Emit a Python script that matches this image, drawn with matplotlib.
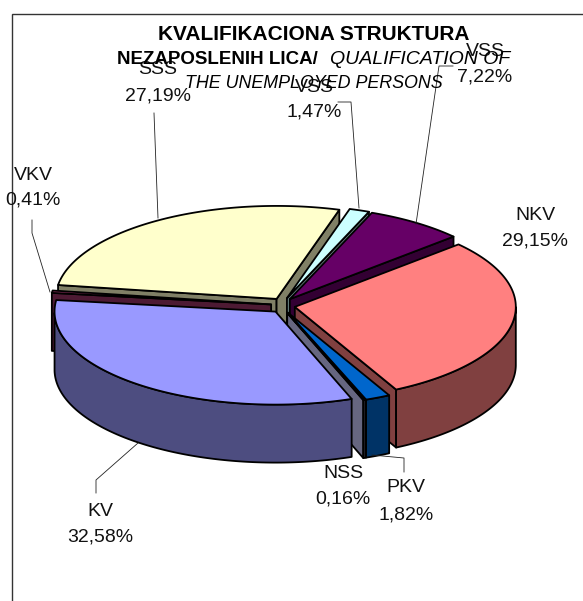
import numpy as np
import matplotlib
matplotlib.use('Agg')
import matplotlib.pyplot as plt
from matplotlib.patches import Polygon, Rectangle

plt.rcParams['font.family'] = ['Liberation Sans', 'DejaVu Sans']

# clockwise from the top of the pie
categories = ['VSS', 'VSS', 'NKV', 'PKV', 'NSS', 'KV', 'VKV', 'SSS']
shares = [1.47, 7.22, 29.15, 1.82, 0.16, 32.58, 0.41, 27.19]
share_labels = ['1,47%', '7,22%', '29,15%', '1,82%', '0,16%', '32,58%', '0,41%', '27,19%']

top_colors = ['#CCFFFF', '#660066', '#FF8080', '#0066CC', '#CCCCFF', '#9999FF', '#993366', '#FFFFCC']
side_colors = ['#668080', '#330033', '#804040', '#003366', '#666680', '#4D4D80', '#4D1A33', '#808066']

# back slices first, front slices last
draw_order = [7, 6, 0, 1, 2, 3, 4, 5]

cx, cy = 283, 305.5
rx, ry = 221, 93
depth = 58
explode = 12
start_angle = 73.5

# label centres and leader lines, in figure pixels
label_xy = [(314, 88, 112), (485, 52, 77), (535, 215, 241), (406, 488, 515),
            (343, 473, 499), (100, 511, 537), (33, 175, 200), (158, 70, 96)]
leaders = [[(338, 102), (351, 102), (359, 208)],
           [(453, 66), (439, 66), (416, 224)],
           None,
           [(404, 472), (404, 458), (372, 455)],
           None,
           [(96, 493), (96, 480), (138, 443)],
           [(32, 220), (32, 233), (50, 292)],
           [(154, 113), (158, 218)]]

fig = plt.figure(figsize=(5.83, 6.01), dpi=100)
ax = fig.add_axes([0, 0, 1, 1])
ax.set_xlim(0, 583)
ax.set_ylim(601, 0)
ax.axis('off')

ax.add_patch(Rectangle((12, 14), 640, 640, fc='white', ec='#333333', lw=1.0))


def rim(t, ox, oy):
    return ox + rx * np.cos(t), oy - ry * np.sin(t)


def add_face(xs, ys, color):
    ax.add_patch(Polygon(np.column_stack([xs, ys]), closed=True, fc=color, ec='black',
                         lw=1.3, joinstyle='round'))


ends = start_angle - np.cumsum(shares) * 3.6
starts = np.concatenate([[start_angle], ends[:-1]])

for i in draw_order:
    t0, t1 = np.radians(starts[i]), np.radians(ends[i])
    mid = (t0 + t1) / 2
    ox = cx + explode * np.cos(mid)
    oy = cy - explode * 0.65 * np.sin(mid)

    # cut walls, only the ones that face the viewer
    for t, visible in ((t0, np.cos(t0) < 0), (t1, np.cos(t1) > 0)):
        if visible:
            x, y = rim(t, ox, oy)
            add_face([ox, x, x, ox], [oy, y, y + depth, oy + depth], side_colors[i])

    # outer wall, front half of the ellipse only
    ts = np.linspace(t0, t1, 120)
    ts = ts[np.sin(ts) < 0]
    if len(ts) > 1:
        x, y = rim(ts, ox, oy)
        add_face(np.r_[x, x[::-1]], np.r_[y, y[::-1] + depth], side_colors[i])

    ts = np.linspace(t0, t1, 120)
    x, y = rim(ts, ox, oy)
    add_face(np.r_[ox, x], np.r_[oy, y], top_colors[i])

for path in leaders:
    if path:
        ax.plot(*zip(*path), color='#222222', lw=0.6)

for name, value, (x, y1, y2) in zip(categories, share_labels, label_xy):
    ax.text(x, y1, name, ha='center', va='center', fontsize=14, color='#111111')
    ax.text(x, y2, value, ha='center', va='center', fontsize=14, color='#111111')

ax.text(314, 35, 'KVALIFIKACIONA STRUKTURA', ha='center', va='center',
        fontsize=15, fontweight='bold')
ax.text(318, 59, 'NEZAPOSLENIH LICA/', ha='right', va='center', fontsize=13.5, fontweight='bold')
ax.text(330, 59, 'QUALIFICATION OF', ha='left', va='center', fontsize=14, fontstyle='italic')
ax.text(314, 83, 'THE UNEMPLOYED PERSONS', ha='center', va='center', fontsize=12.9, fontstyle='italic')

fig.savefig('out.png', dpi=100)
